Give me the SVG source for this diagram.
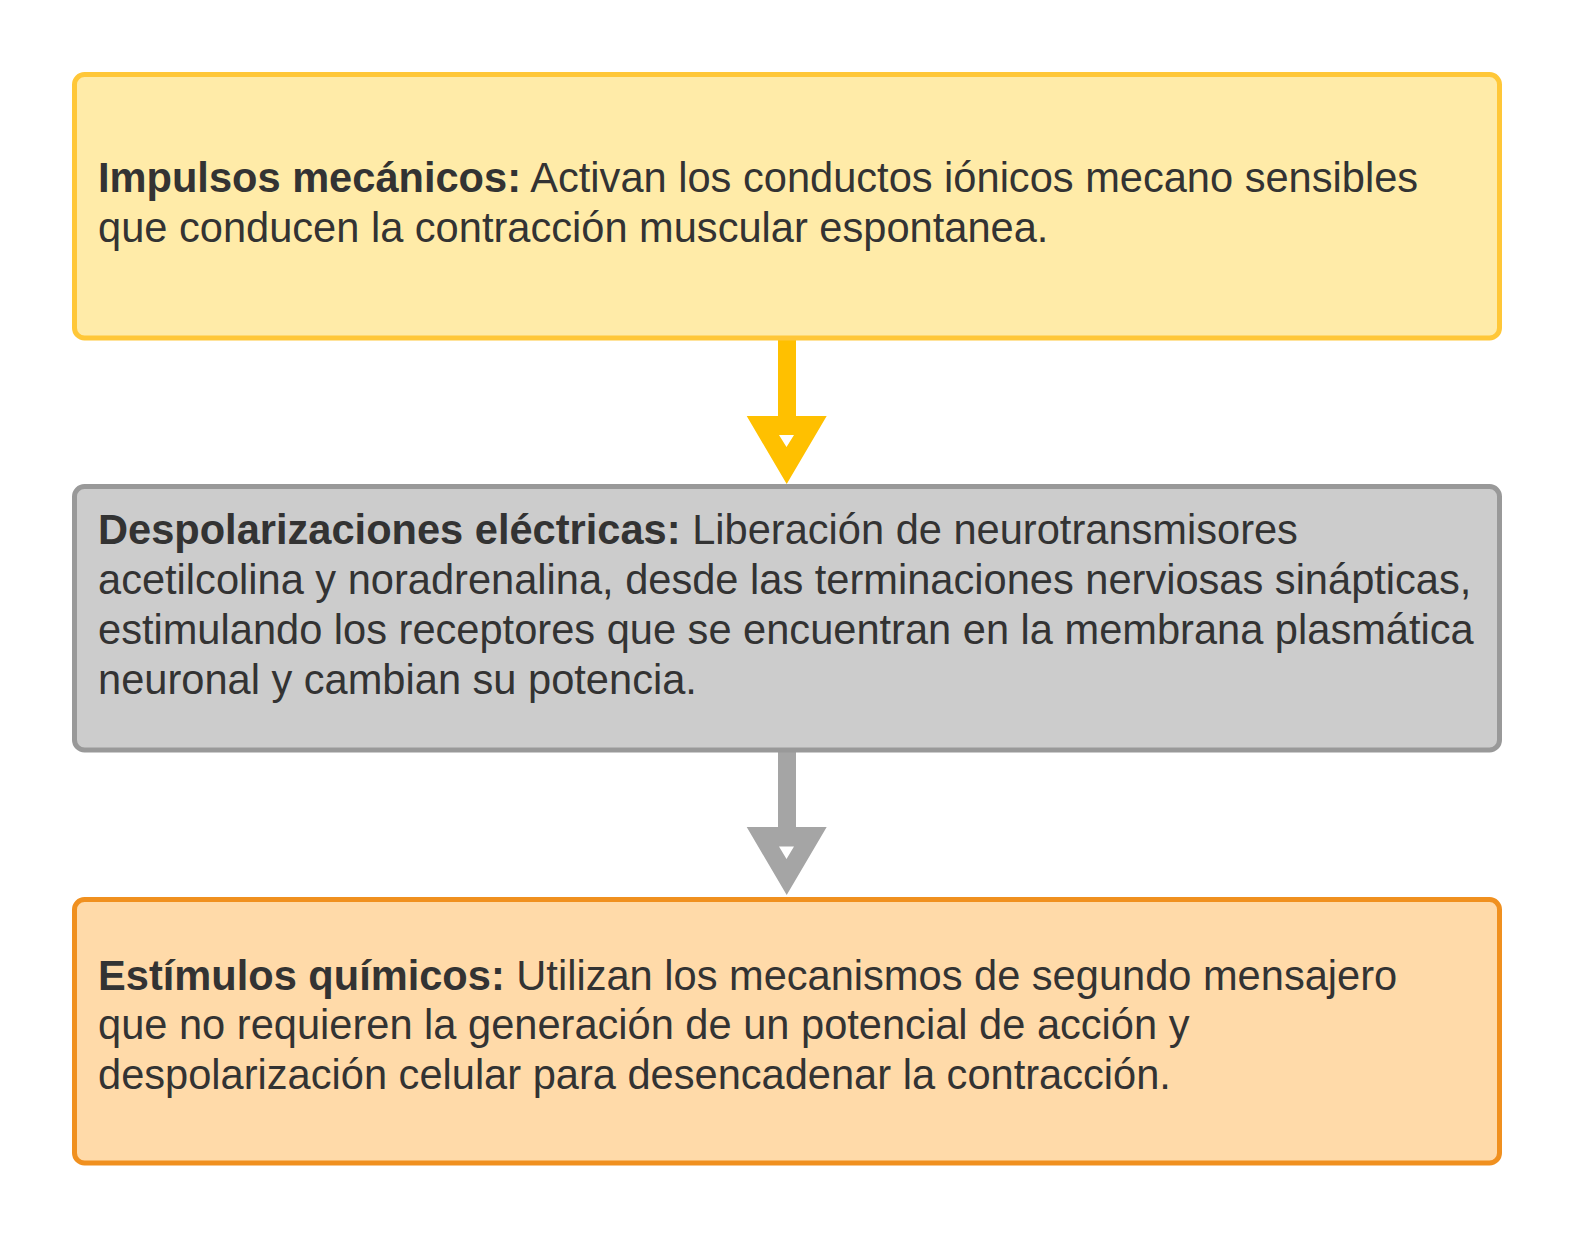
<svg xmlns="http://www.w3.org/2000/svg" width="1575" height="1238" viewBox="0 0 1575 1238">
<style>
.t{font-family:"Liberation Sans",Arial,sans-serif;font-size:41.6px;fill:#333333}
.b{font-weight:bold}
.box{stroke-width:5}
</style>
<rect width="1575" height="1238" fill="#ffffff"/>
<g id="connectors">
<g id="arrow1" fill="#FFC000">
<rect x="778" y="338" width="18" height="81"/>
<path fill-rule="evenodd" d="M746.7,416 L826.7,416 L786.7,484 Z M779,435 L794,435 L786.5,447 Z"/>
</g>
<g id="arrow2" fill="#A5A5A5">
<rect x="778" y="750" width="18" height="81"/>
<path fill-rule="evenodd" d="M746.7,827 L826.7,827 L786.7,895 Z M779,846.5 L794,846.5 L786.5,859 Z"/>
</g>
</g>
<g id="node1">
<rect class="box" x="74.5" y="74.5" width="1425" height="263.5" rx="10" fill="#FFEBA8" stroke="#FFC738"/>
<text class="t" x="98" y="192"><tspan class="b">Impulsos mecánicos:</tspan> Activan los conductos iónicos mecano sensibles</text>
<text class="t" x="98" y="241.5">que conducen la contracción muscular espontanea.</text>
</g>
<g id="node2">
<rect class="box" x="74.5" y="486.5" width="1425" height="263.5" rx="10" fill="#CCCCCC" stroke="#999999"/>
<text class="t" x="98" y="544"><tspan class="b">Despolarizaciones eléctricas:</tspan> Liberación de neurotransmisores</text>
<text class="t" x="98" y="593.5">acetilcolina y noradrenalina, desde las terminaciones nerviosas sinápticas,</text>
<text class="t" x="98" y="643.5">estimulando los receptores que se encuentran en la membrana plasmática</text>
<text class="t" x="98" y="693.5">neuronal y cambian su potencia.</text>
</g>
<g id="node3">
<rect class="box" x="74.5" y="899.5" width="1425" height="263.5" rx="10" fill="#FFDAA9" stroke="#F0901F"/>
<text class="t" x="98" y="989.5"><tspan class="b">Estímulos químicos:</tspan> Utilizan los mecanismos de segundo mensajero</text>
<text class="t" x="98" y="1039">que no requieren la generación de un potencial de acción y</text>
<text class="t" x="98" y="1089">despolarización celular para desencadenar la contracción.</text>
</g>
</svg>
